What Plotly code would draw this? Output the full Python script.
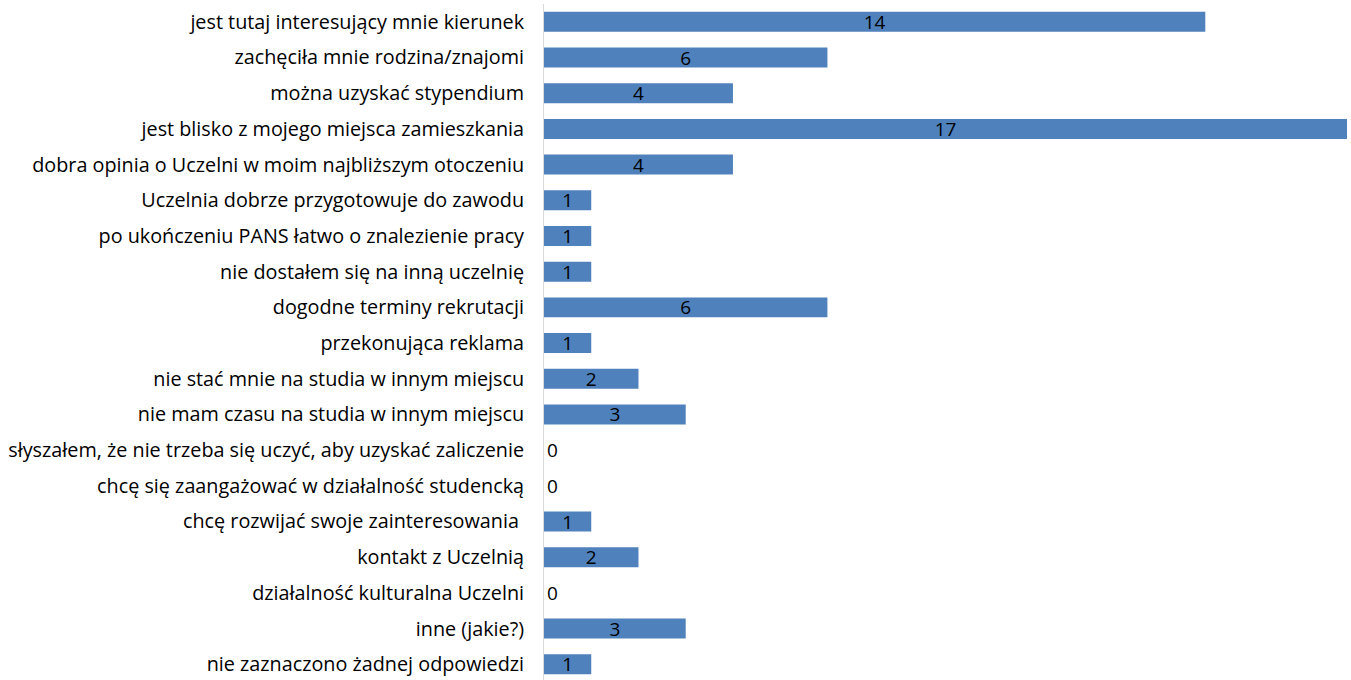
import plotly.graph_objects as go

categories = [
    "jest tutaj interesujący mnie kierunek",
    "zachęciła mnie rodzina/znajomi",
    "można uzyskać stypendium",
    "jest blisko z mojego miejsca zamieszkania",
    "dobra opinia o Uczelni w moim najbliższym otoczeniu",
    "Uczelnia dobrze przygotowuje do zawodu",
    "po ukończeniu PANS łatwo o znalezienie pracy",
    "nie dostałem się na inną uczelnię",
    "dogodne terminy rekrutacji",
    "przekonująca reklama",
    "nie stać mnie na studia w innym miejscu",
    "nie mam czasu na studia w innym miejscu",
    "słyszałem, że nie trzeba się uczyć, aby uzyskać zaliczenie",
    "chcę się zaangażować w działalność studencką",
    "chcę rozwijać swoje zainteresowania\u00a0",
    "kontakt z Uczelnią",
    "działalność kulturalna Uczelni",
    "inne (jakie?)",
    "nie zaznaczono żadnej odpowiedzi",
]
values = [14, 6, 4, 17, 4, 1, 1, 1, 6, 1, 2, 3, 0, 0, 1, 2, 0, 3, 1]

FONT = "Open Sans"
FSIZE = 19.8

fig = go.Figure(
    go.Bar(
        x=values,
        y=categories,
        orientation="h",
        marker=dict(color="#4F81BD", line=dict(width=0)),
        width=0.56,
        text=[str(v) for v in values],
        textposition=["outside" if v == 0 else "inside" for v in values],
        textangle=0,
        insidetextanchor="middle",
        textfont=dict(family=FONT, size=19, color="#000000"),
        cliponaxis=False,
        hoverinfo="skip",
    )
)

fig.update_layout(
    width=1351,
    height=680,
    margin=dict(l=544, r=4, t=4, b=0),
    paper_bgcolor="white",
    plot_bgcolor="white",
    showlegend=False,
    font=dict(family=FONT, size=FSIZE, color="#000000"),
    uniformtext=dict(mode="show", minsize=19),
)
fig.update_xaxes(
    range=[0, 17],
    showgrid=False,
    zeroline=False,
    showticklabels=False,
    showline=False,
    fixedrange=True,
    automargin=False,
)
fig.update_yaxes(
    range=[18.44, -0.5],
    showgrid=False,
    zeroline=False,
    showline=True,
    linecolor="#D9D9D9",
    linewidth=1,
    ticks="",
    ticklabelstandoff=15,
    automargin=False,
    tickfont=dict(family=FONT, size=FSIZE, color="#000000"),
)

fig.write_html(
    "out.html",
    config={"displayModeBar": False},
    post_script="document.body.style.margin='0';document.body.style.padding='0';",
)
